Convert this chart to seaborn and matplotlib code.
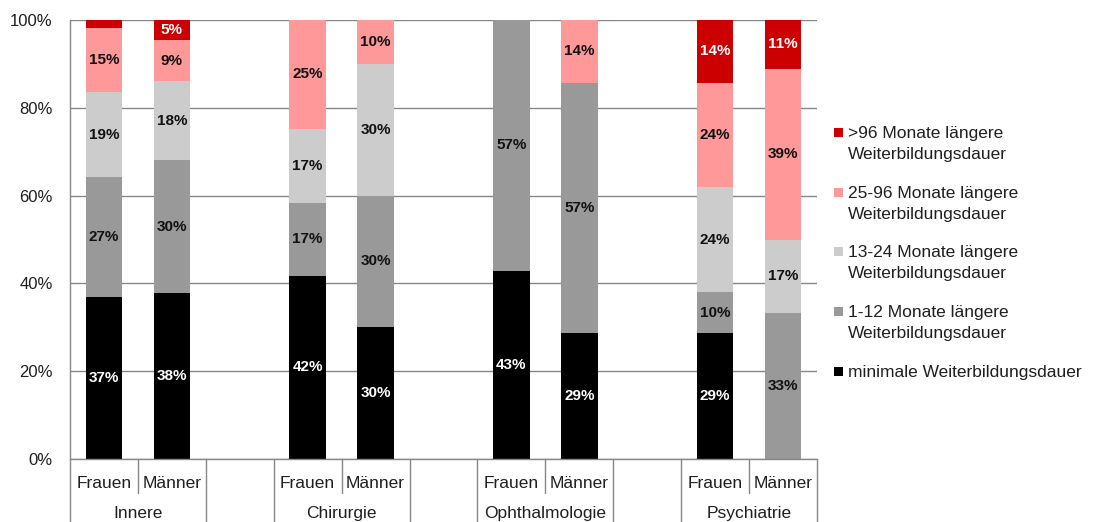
import numpy as np
import pandas as pd
import seaborn as sns
import matplotlib
matplotlib.use("Agg")
import matplotlib.pyplot as plt
from matplotlib.patches import Rectangle
import matplotlib.transforms as mtransforms

# ---- data ----
groups = ["Innere", "Chirurgie", "Ophthalmologie", "Psychiatrie"]
sexes = ["Frauen", "Männer"]
series_names = [
    "minimale Weiterbildungsdauer",
    "1-12 Monate längere\nWeiterbildungsdauer",
    "13-24 Monate längere\nWeiterbildungsdauer",
    "25-96 Monate längere\nWeiterbildungsdauer",
    ">96 Monate längere\nWeiterbildungsdauer",
]
# values per bar in order: Innere F, Innere M, Chirurgie F, Chirurgie M, Ophth F, Ophth M, Psych F, Psych M
minimal = [37.0, 37.7, 41.7, 30, 42.9, 28.6, 28.6, 0]
m1_12 = [27.2, 30.3, 16.7, 30, 57.1, 57.1, 9.5, 33.3]
m13_24 = [19.4, 18.0, 16.7, 30, 0, 0, 23.8, 16.7]
m25_96 = [14.6, 9.4, 25, 10, 0, 14.3, 23.8, 38.9]
m96plus = [1.8, 4.6, 0, 0, 0, 0, 14.3, 11.1]
colors = ["#000000", "#999999", "#CCCCCC", "#FF9999", "#CC0000"]
label_colors = ["white", "#111111", "#111111", "#111111", "white"]

series = [minimal, m1_12, m13_24, m25_96, m96plus]

# slots: two bars per group plus a blank slot between groups
slots = []
bar_slots = []
for gi, g in enumerate(groups):
    for s in sexes:
        slots.append(f"{g}|{s}")
        bar_slots.append(f"{g}|{s}")
    if gi < len(groups) - 1:
        slots.append(f"gap{gi}")

df = pd.DataFrame({"slot": bar_slots})
for k, vals in enumerate(series):
    df[f"s{k}"] = vals
cum = np.cumsum(np.array(series), axis=0)
for k in range(len(series)):
    df[f"c{k}"] = cum[k]

# ---- figure ----
sns.set_style("white")
plt.rcParams["font.family"] = ["Liberation Sans", "DejaVu Sans"]
TXT = "#1f1f1f"
GRID = "#878787"
FS = 12.5

fig = plt.figure(figsize=(11, 5.22), dpi=100)
ax = fig.add_axes([70 / 1100, 63 / 522, 747 / 1100, 439 / 522])

for k in reversed(range(len(series))):
    sns.barplot(data=df, x="slot", y=f"c{k}", order=slots, color=colors[k],
                saturation=1, width=0.54, errorbar=None, linewidth=0,
                edgecolor="none", ax=ax, zorder=3)

ax.set_xlim(-0.5, len(slots) - 0.5)
ax.set_ylim(0, 100)
ax.set_yticks(np.arange(0, 101, 20))
ax.set_yticklabels([f"{v}%" for v in range(0, 101, 20)], fontsize=12, color=TXT)
ax.set_xticks([])
ax.set_xlabel("")
ax.set_ylabel("")
ax.yaxis.grid(True, color=GRID, linewidth=1, zorder=0)
ax.set_axisbelow(True)
for sp in ["top", "right", "bottom"]:
    ax.spines[sp].set_visible(False)
ax.spines["left"].set_color(GRID)
ax.spines["left"].set_linewidth(1)
ax.tick_params(axis="y", length=4.5, width=1, color=GRID, pad=8, direction="out")

# segment labels
for bi, slot in enumerate(bar_slots):
    xpos = slots.index(slot)
    bottom = 0
    for k, vals in enumerate(series):
        v = vals[bi]
        if v >= 3:
            ax.text(xpos, bottom + v / 2, f"{int(round(v))}%", ha="center", va="center",
                    fontsize=11, fontweight="bold", color=label_colors[k], zorder=5)
        bottom += v

# multi-level category axis
trans = mtransforms.blended_transform_factory(ax.transData, ax.transAxes)
for g in groups:
    i0 = slots.index(f"{g}|Frauen")
    i1 = slots.index(f"{g}|Männer")
    for xb in (i0 - 0.5, i1 + 0.5):
        ax.plot([xb, xb], [0, -0.2], color=GRID, lw=1, transform=trans, clip_on=False)
    ax.plot([i0 + 0.5, i0 + 0.5], [0, -0.077], color=GRID, lw=1, transform=trans, clip_on=False)
    ax.text(i0, -0.055, "Frauen", transform=trans, ha="center", va="center", fontsize=FS, color=TXT)
    ax.text(i1, -0.055, "Männer", transform=trans, ha="center", va="center", fontsize=FS, color=TXT)
    ax.text((i0 + i1) / 2, -0.125, g, transform=trans, ha="center", va="center", fontsize=FS, color=TXT)
# bottom axis line
ax.plot([-0.5, len(slots) - 0.5], [0, 0], color=GRID, lw=1, transform=trans, clip_on=False, zorder=4)

# legend (drawn manually so markers sit next to the first line)
W, H = 1100, 522
ytop = 133
for j, k in enumerate(reversed(range(len(series)))):
    y = ytop + j * 59.7
    fig.patches.append(Rectangle((834 / W, 1 - (y + 4) / H), 9 / W, 9 / H,
                                 transform=fig.transFigure, facecolor=colors[k],
                                 edgecolor="none"))
    fig.text(848 / W, 1 - (y - 7) / H, series_names[k], ha="left", va="top",
             fontsize=FS, color=TXT, linespacing=1.5)

fig.savefig("out.png", dpi=100)
